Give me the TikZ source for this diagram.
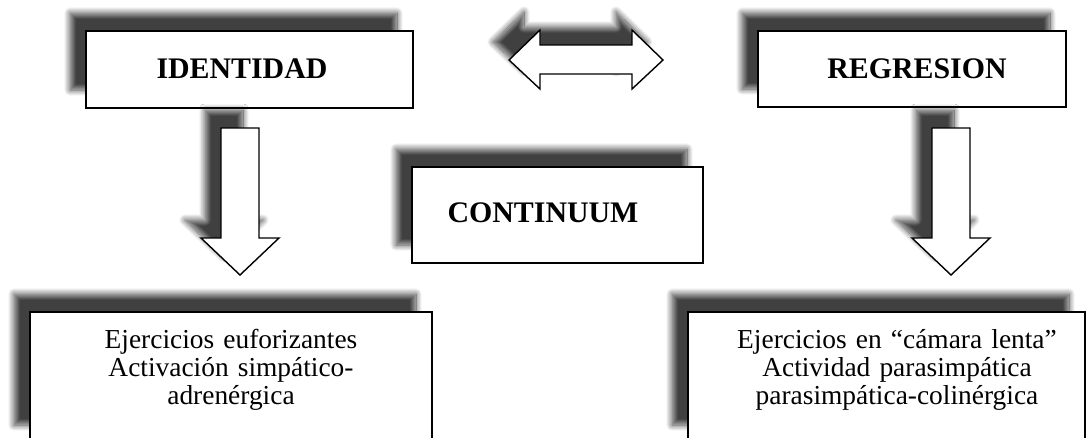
\documentclass[tikz,border=0pt]{standalone}
\usepackage{fontspec}
\setmainfont{Liberation Serif}
\usetikzlibrary{shadows.blur}
\tikzset{
  frame/.style={draw=black, line width=0.8pt, fill=white, line join=miter,
    blur shadow={shadow xshift=-0.32cm, shadow yshift=0.36cm,
      shadow blur radius=0.12cm, shadow blur steps=14, shadow opacity=75}},
  headtext/.style={font=\fontsize{17}{20}\selectfont\bfseries},
  bodytext/.style={font=\fontsize{15.6}{15.9}\selectfont, align=center, text width=7.8cm}
}
\begin{document}
\begin{tikzpicture}[x=0.02cm, y=-0.02cm]
    \useasboundingbox (0,0) rectangle (1086,437);
    \clip (0,0) rectangle (1086,437);

    % top boxes
    \draw[frame] (86,31) rectangle (413,108);
    \node[headtext] (ident) at (242,69) {IDENTIDAD};
    \draw[frame] (758,31) rectangle (1066,107);
    \node[headtext] (regr) at (917,69) {REGRESION};

    % double arrow
    \draw[frame] (509,60) -- (540,30) -- (540,45) -- (632,45) -- (632,30) -- (663,60)
        -- (632,89) -- (632,74) -- (540,74) -- (540,89) -- cycle;

    % down arrows
    \foreach \cx in {240,951} {
        \draw[frame] (\cx-19,128) -- (\cx+19,128) -- (\cx+19,238) -- (\cx+39,238)
            -- (\cx,275) -- (\cx-39,238) -- (\cx-19,238) -- cycle;
    }

    % middle box
    \draw[frame] (412,167) rectangle (703,263);
    \node[headtext] (cont) at (543,213) {CONTINUUM};

    % bottom boxes
    \draw[frame] (30,312) rectangle (432,443);
    \node[bodytext] (eufor) at (231,370) {Ejercicios euforizantes\\Activación simpático-\\adrenérgica};
    \draw[frame] (688,312) rectangle (1085,443);
    \node[bodytext] (lenta) at (897,370) {Ejercicios en “cámara lenta”\\Actividad parasimpática\\parasimpática-colinérgica};
\end{tikzpicture}
\end{document}
